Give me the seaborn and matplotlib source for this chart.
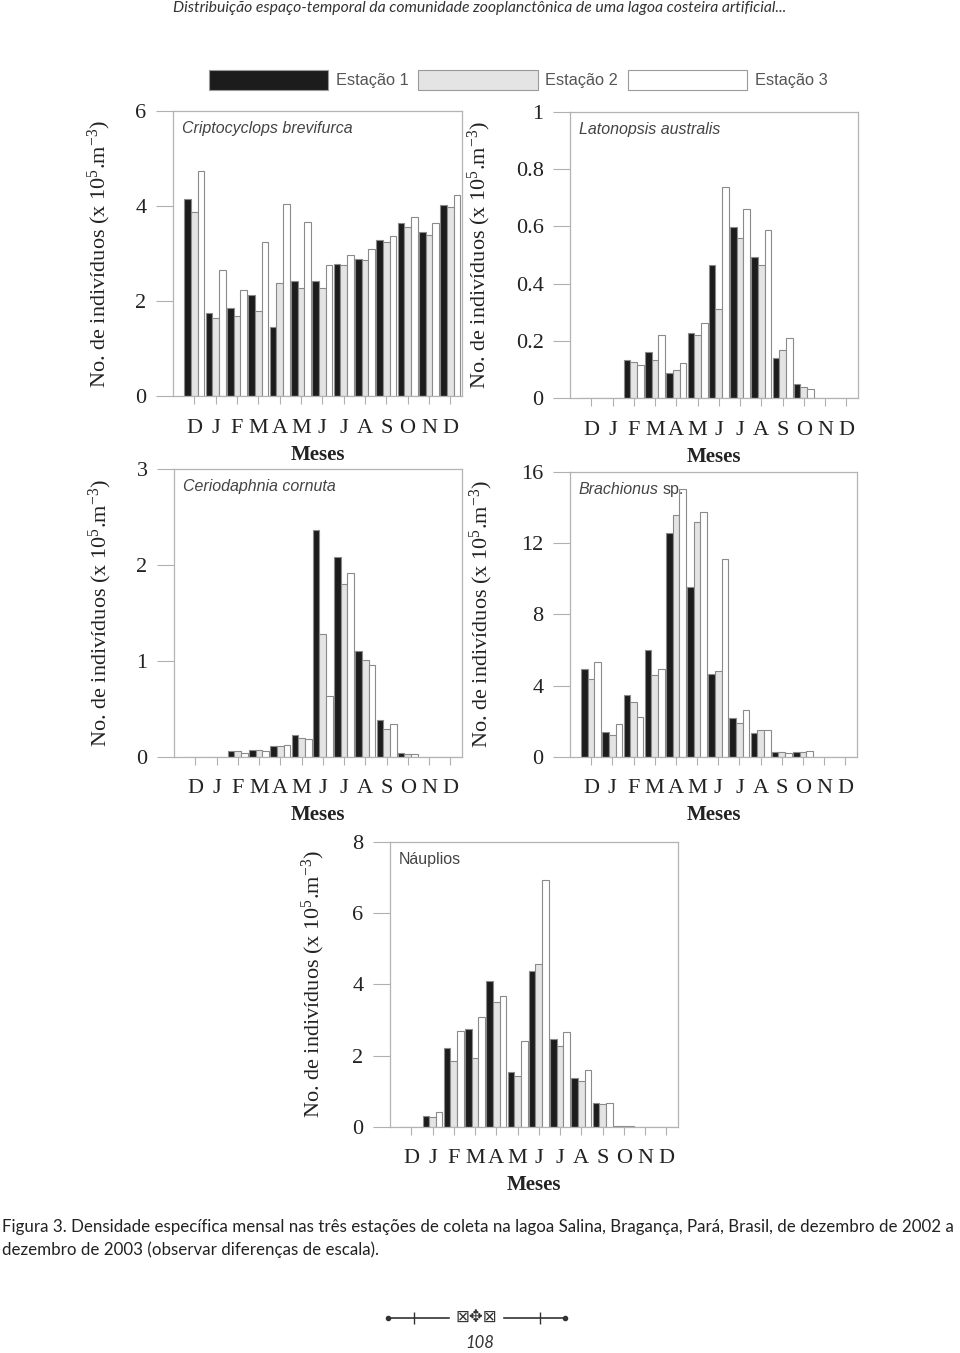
import numpy as np
import pandas as pd
import seaborn as sns
import matplotlib.pyplot as plt
from matplotlib.patches import Patch
from matplotlib.lines import Line2D

sns.set_style("ticks")
plt.rcParams['font.family'] = ['Liberation Serif', 'DejaVu Serif']
plt.rcParams['mathtext.fontset'] = 'custom'
plt.rcParams['mathtext.rm'] = 'Liberation Serif'
plt.rcParams['mathtext.it'] = 'Liberation Serif:italic'

# dados (x 10^5 ind/m3), dez/2002 a dez/2003
meses = ["D", "J", "F", "M", "A", "M", "J", "J", "A", "S", "O", "N", "D"]
mes_id = ["dez02", "jan", "fev", "mar", "abr", "mai", "jun", "jul", "ago", "set", "out", "nov", "dez03"]
estacoes = ["Estação 1", "Estação 2", "Estação 3"]
cores = ["#1c1c1c", "#e4e4e4", "#ffffff"]

cripto_e1 = [4.15, 1.75, 1.86, 2.13, 1.46, 2.42, 2.42, 2.79, 2.88, 3.28, 3.64, 3.45, 4.02]
cripto_e2 = [3.87, 1.64, 1.70, 1.80, 2.38, 2.27, 2.27, 2.76, 2.86, 3.24, 3.56, 3.40, 3.98]
cripto_e3 = [4.73, 2.66, 2.23, 3.25, 4.05, 3.66, 2.76, 2.98, 3.10, 3.38, 3.77, 3.64, 4.23]

laton_e1 = [0, 0, 0.134, 0.163, 0.087, 0.227, 0.465, 0.597, 0.494, 0.142, 0.049, 0, 0]
laton_e2 = [0, 0, 0.128, 0.134, 0.099, 0.221, 0.310, 0.558, 0.465, 0.169, 0.041, 0, 0]
laton_e3 = [0, 0, 0.116, 0.221, 0.122, 0.262, 0.736, 0.660, 0.587, 0.209, 0.031, 0, 0]

cerio_e1 = [0, 0, 0.055, 0.070, 0.114, 0.220, 2.36, 2.08, 1.10, 0.38, 0.040, 0, 0]
cerio_e2 = [0, 0, 0.055, 0.073, 0.107, 0.194, 1.28, 1.80, 1.01, 0.29, 0.028, 0, 0]
cerio_e3 = [0, 0, 0.035, 0.059, 0.125, 0.187, 0.63, 1.92, 0.96, 0.34, 0.028, 0, 0]

brach_e1 = [4.94, 1.40, 3.48, 6.01, 12.55, 9.51, 4.63, 2.19, 1.31, 0.26, 0.28, 0, 0]
brach_e2 = [4.36, 1.20, 3.05, 4.57, 13.61, 13.18, 4.83, 1.87, 1.50, 0.26, 0.26, 0, 0]
brach_e3 = [5.32, 1.85, 2.25, 4.94, 15.06, 13.76, 11.09, 2.62, 1.50, 0.19, 0.34, 0, 0]

naup_e1 = [0, 0.31, 2.22, 2.74, 4.10, 1.54, 4.38, 2.46, 1.36, 0.68, 0.01, 0, 0]
naup_e2 = [0, 0.26, 1.86, 1.94, 3.51, 1.42, 4.56, 2.27, 1.28, 0.65, 0.01, 0, 0]
naup_e3 = [0, 0.42, 2.69, 3.07, 3.68, 2.41, 6.94, 2.65, 1.59, 0.68, 0.01, 0, 0]

W, H = 960, 1353
fig = plt.figure(figsize=(W / 100, H / 100), dpi=100)


def pos(l, t, r, b):
    return [l / W, 1 - b / H, (r - l) / W, (b - t) / H]


def tabela(e1, e2, e3):
    return pd.DataFrame({
        "mes": mes_id * 3,
        "estacao": np.repeat(estacoes, len(mes_id)),
        "dens": e1 + e2 + e3,
    })


def painel(rect, df, ymax, yticks, ylab_x, xlab_y):
    ax = fig.add_axes(rect)
    sns.barplot(data=df, x="mes", y="dens", hue="estacao", order=mes_id,
                hue_order=estacoes, palette=cores, saturation=1, width=0.94,
                gap=0, edgecolor="#8a8a8a", linewidth=0.8, errorbar=None,
                legend=False, ax=ax)
    ax.set_xlim(-1.0, 12.55)
    ax.set_ylim(0, ymax)
    ax.set_xticks(range(13))
    ax.set_xticklabels(meses, fontsize=16, color="#222")
    ax.set_yticks(yticks)
    ax.set_yticklabels([f"{t:g}" for t in yticks], fontsize=16, color="#222")
    ax.tick_params(axis="y", length=12, width=0.8, color="#b0b0b0", pad=7, left=True)
    ax.tick_params(axis="x", length=6, width=0.8, color="#b0b0b0", pad=10, bottom=True)
    for s in ax.spines.values():
        s.set_visible(True)
        s.set_color("#b3b3b3")
        s.set_linewidth(0.9)
    ax.set_xlabel("Meses", fontsize=15, fontweight="bold", color="#222")
    ax.xaxis.set_label_coords(0.5, xlab_y)
    ax.set_ylabel("No. de indivíduos (x 10$^{5}$.m$^{-3}$)", fontsize=16, color="#222")
    ax.yaxis.set_label_coords(ylab_x, 0.5)
    return ax


def titulo(ax, nome, italico=True, resto=None):
    t = ax.text(0.03, 0.965, nome, transform=ax.transAxes, va="top", ha="left",
                family=["Liberation Sans", "DejaVu Sans"],
                style="italic" if italico else "normal", fontsize=11.5, color="#444444")
    if resto:
        ax.annotate(resto, xy=(1, 0), xycoords=t, xytext=(3, 0), textcoords="offset points",
                    va="bottom", ha="left", family=["Liberation Sans", "DejaVu Sans"],
                    fontsize=11.5, color="#444444")


ax1 = painel(pos(173, 111, 462, 396.5), tabela(cripto_e1, cripto_e2, cripto_e3),
             6, [0, 2, 4, 6], -0.208, -0.17)
titulo(ax1, "Criptocyclops brevifurca")

ax2 = painel(pos(570, 111.5, 858, 398.3), tabela(laton_e1, laton_e2, laton_e3),
             1, [0, 0.2, 0.4, 0.6, 0.8, 1], -0.267, -0.17)
titulo(ax2, "Latonopsis australis")

ax3 = painel(pos(174, 469, 462, 756.5), tabela(cerio_e1, cerio_e2, cerio_e3),
             3, [0, 1, 2, 3], -0.21, -0.17)
titulo(ax3, "Ceriodaphnia cornuta")

ax4 = painel(pos(570, 472, 857, 756.7), tabela(brach_e1, brach_e2, brach_e3),
             16, [0, 4, 8, 12, 16], -0.26, -0.17)
titulo(ax4, "Brachionus", resto="sp.")

ax5 = painel(pos(390, 842, 678, 1126.7), tabela(naup_e1, naup_e2, naup_e3),
             8, [0, 2, 4, 6, 8], -0.219, -0.17)
titulo(ax5, "Náuplios", italico=False)

# legenda
handles = [Patch(facecolor=c, edgecolor="#9a9a9a", linewidth=0.8) for c in cores]
fig.legend(handles, estacoes, loc="center", bbox_to_anchor=(518 / W, 1 - 80 / H),
           ncol=3, frameon=False, handlelength=7.3, handleheight=1.45,
           handletextpad=0.45, columnspacing=0.6,
           prop={"family": ["Liberation Sans", "DejaVu Sans"], "size": 11.8},
           labelcolor="#555555")

# cabecalho, legenda da figura e rodape
fig.text(480 / W, 1 - 8 / H, "Distribuição espaço-temporal da comunidade zooplanctônica de uma lagoa costeira artificial...",
         ha="center", va="center", family=["Lato", "DejaVu Sans"], style="italic",
         fontsize=11.3, color="#333333")
fig.text(2 / W, 1 - 1227 / H,
         "Figura 3. Densidade específica mensal nas três estações de coleta na lagoa Salina, Bragança, Pará, Brasil, de dezembro de 2002 a",
         ha="left", va="center", family=["Lato", "DejaVu Sans"], fontsize=12.2,
         color="#222222")
fig.text(2 / W, 1 - 1250 / H, "dezembro de 2003 (observar diferenças de escala).",
         ha="left", va="center", family=["Lato", "DejaVu Sans"], fontsize=12.2,
         color="#222222")

yo = 1 - 1318 / H
fig.add_artist(Line2D([388 / W, 565 / W], [yo, yo], color="#333333", lw=1.2))
fig.add_artist(Line2D([388 / W, 565 / W], [yo, yo], color="#333333", lw=0,
                      marker="o", markersize=3))
fig.add_artist(Line2D([414 / W, 540 / W], [yo, yo], color="#333333", lw=0,
                      marker="|", markersize=8))
fig.text(476 / W, yo, "⊠✥⊠", ha="center", va="center", family="DejaVu Sans",
         fontsize=12, color="#333333", backgroundcolor="white")
fig.text(480 / W, 1 - 1343 / H, "108", ha="center", va="center",
         family=["Lato", "DejaVu Sans"], style="italic", fontsize=12, color="#333333")

fig.savefig("out.png", dpi=100)
